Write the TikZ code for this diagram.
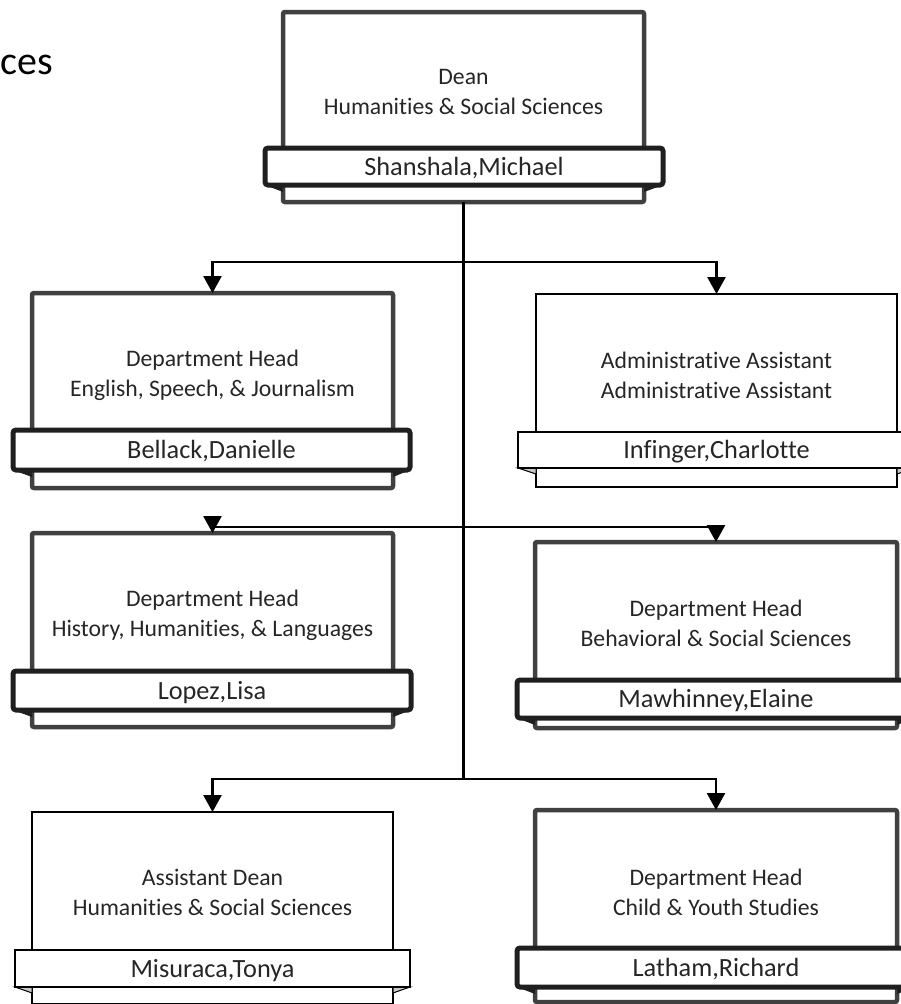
\documentclass[tikz,border=0pt]{standalone}
\usepackage{fontspec}
\setmainfont{Carlito}[RawFeature={-liga}]
\usetikzlibrary{arrows.meta}
\definecolor{boxgray}{HTML}{404040}
\definecolor{bandblack}{HTML}{1F1F1F}
\definecolor{foldgray}{HTML}{C8C8C8}
\definecolor{txt}{HTML}{262626}
\tikzset{
  box/.style={rectangle, outer sep=0pt, inner sep=0pt, fill=white},
  nametext/.style={text=txt, font=\fontsize{26.3}{30}\selectfont, text height=20pt, text depth=3pt},
  thickbox/.style={box, draw=boxgray, line width=4.5pt, rounded corners=2pt},
  thickband/.style={box, nametext, draw=bandblack, line width=5pt, rounded corners=3pt},
  thickfold/.style={fill=bandblack},
  thinbox/.style={box, draw=black, line width=1.8pt},
  thinband/.style={box, nametext, draw=black, line width=1.8pt},
  thinfold/.style={fill=foldgray, draw=black, line width=1pt},
  titletext/.style={align=center, inner sep=0pt, text=txt, font=\fontsize{23.7}{30}\selectfont},
  trunkline/.style={draw=black, line width=2.8pt},
  arr/.style={draw=black, line width=2.6pt, -{Triangle[length=17pt,width=18pt]}},
}
\begin{document}
\begin{tikzpicture}[x=1pt,y=-1pt]
\path[use as bounding box] (0,0) rectangle (901,1004);
\clip (0,0) rectangle (901,1004);

\node[anchor=base east, inner sep=0pt, text=black, font=\fontsize{40}{48}\selectfont] (pagetitle) at (53,74) {ces};

% ---------- Dean ----------
\node[thickbox, minimum width=361pt, minimum height=190pt] (dean) at (463.5,107) {};
\node[titletext] (dean-t) at (463.5,92) {Dean\\Humanities \& Social Sciences};
\coordinate (dean-bs) at (464,185);
\fill[thickfold] (265,185) -- (dean.west |- dean-bs) -- ++(0,7) -- cycle;
\fill[thickfold] (663,185) -- (dean.east |- dean-bs) -- ++(0,7) -- cycle;
\node[thickband, minimum width=398pt, minimum height=37pt] (dean-b) at (464,166.5) {Shanshala,Michael};

% ---------- Bellack ----------
\node[thickbox, minimum width=361pt, minimum height=195pt] (bellack) at (212.5,390.5) {};
\node[titletext] (bellack-t) at (212.5,375) {Department Head\\English, Speech, \& Journalism};
\fill[thickfold] (13,470) -- (32,470) -- (32,477) -- cycle;
\fill[thickfold] (410,470) -- (393,470) -- (393,477) -- cycle;
\node[thickband, minimum width=397pt, minimum height=40pt] (bellack-b) at (211.5,450) {Bellack,Danielle};

% ---------- Infinger ----------
\node[thinbox, minimum width=361pt, minimum height=193pt] (infinger) at (716.5,390.5) {};
\node[titletext] (infinger-t) at (716.5,375) {Administrative Assistant\\Administrative Assistant};
\filldraw[thinfold] (518,468) -- (536,468) -- (536,474) -- cycle;
\filldraw[thinfold] (915,468) -- (897,468) -- (897,474) -- cycle;
\node[thinband, minimum width=397pt, minimum height=36pt] (infinger-b) at (716.5,450) {Infinger,Charlotte};

% ---------- Lopez ----------
\node[thickbox, minimum width=361pt, minimum height=194pt] (lopez) at (212.5,630) {};
\node[titletext] (lopez-t) at (212.5,615) {Department Head\\History, Humanities, \& Languages};
\fill[thickfold] (13,710) -- (32,710) -- (32,717) -- cycle;
\fill[thickfold] (411,710) -- (393,710) -- (393,717) -- cycle;
\node[thickband, minimum width=398pt, minimum height=39pt] (lopez-b) at (212,690.5) {Lopez,Lisa};

% ---------- Mawhinney ----------
\node[thickbox, minimum width=362pt, minimum height=186pt] (mawhinney) at (716,635) {};
\node[titletext] (mawhinney-t) at (716,623) {Department Head\\Behavioral \& Social Sciences};
\fill[thickfold] (517,718) -- (535,718) -- (535,725) -- cycle;
\fill[thickfold] (915,718) -- (897,718) -- (897,725) -- cycle;
\node[thickband, minimum width=398pt, minimum height=38pt] (mawhinney-b) at (716,699) {Mawhinney,Elaine};

% ---------- Misuraca ----------
\node[thinbox, minimum width=361pt, minimum height=192pt] (misuraca) at (212.5,908) {};
\node[titletext] (misuraca-t) at (212.5,892) {Assistant Dean\\Humanities \& Social Sciences};
\filldraw[thinfold] (15,987) -- (32,987) -- (32,993) -- cycle;
\filldraw[thinfold] (410,987) -- (393,987) -- (393,993) -- cycle;
\node[thinband, minimum width=395pt, minimum height=37pt] (misuraca-b) at (212.5,968.5) {Misuraca,Tonya};

% ---------- Latham ----------
\node[thickbox, minimum width=362pt, minimum height=192pt] (latham) at (716,906) {};
\node[titletext] (latham-t) at (716,892) {Department Head\\Child \& Youth Studies};
\fill[thickfold] (517,987) -- (535,987) -- (535,994) -- cycle;
\fill[thickfold] (915,987) -- (897,987) -- (897,994) -- cycle;
\node[thickband, minimum width=398pt, minimum height=39pt] (latham-b) at (716,967.5) {Latham,Richard};

% ---------- connectors ----------
\coordinate (j1) at (463.5,262);
\coordinate (j2) at (463.5,527);
\coordinate (j3) at (463.5,779);
\draw[trunkline] (dean.south) -- (j3);
\draw[arr] (j1) -| (bellack.north);
\draw[arr] (j1) -| (infinger.north);
\draw[arr] (j2) -| (lopez.north);
\draw[arr] (j2) -| (mawhinney.north);
\draw[arr] (j3) -| (misuraca.north);
\draw[arr] (j3) -| (latham.north);
\end{tikzpicture}
\end{document}
